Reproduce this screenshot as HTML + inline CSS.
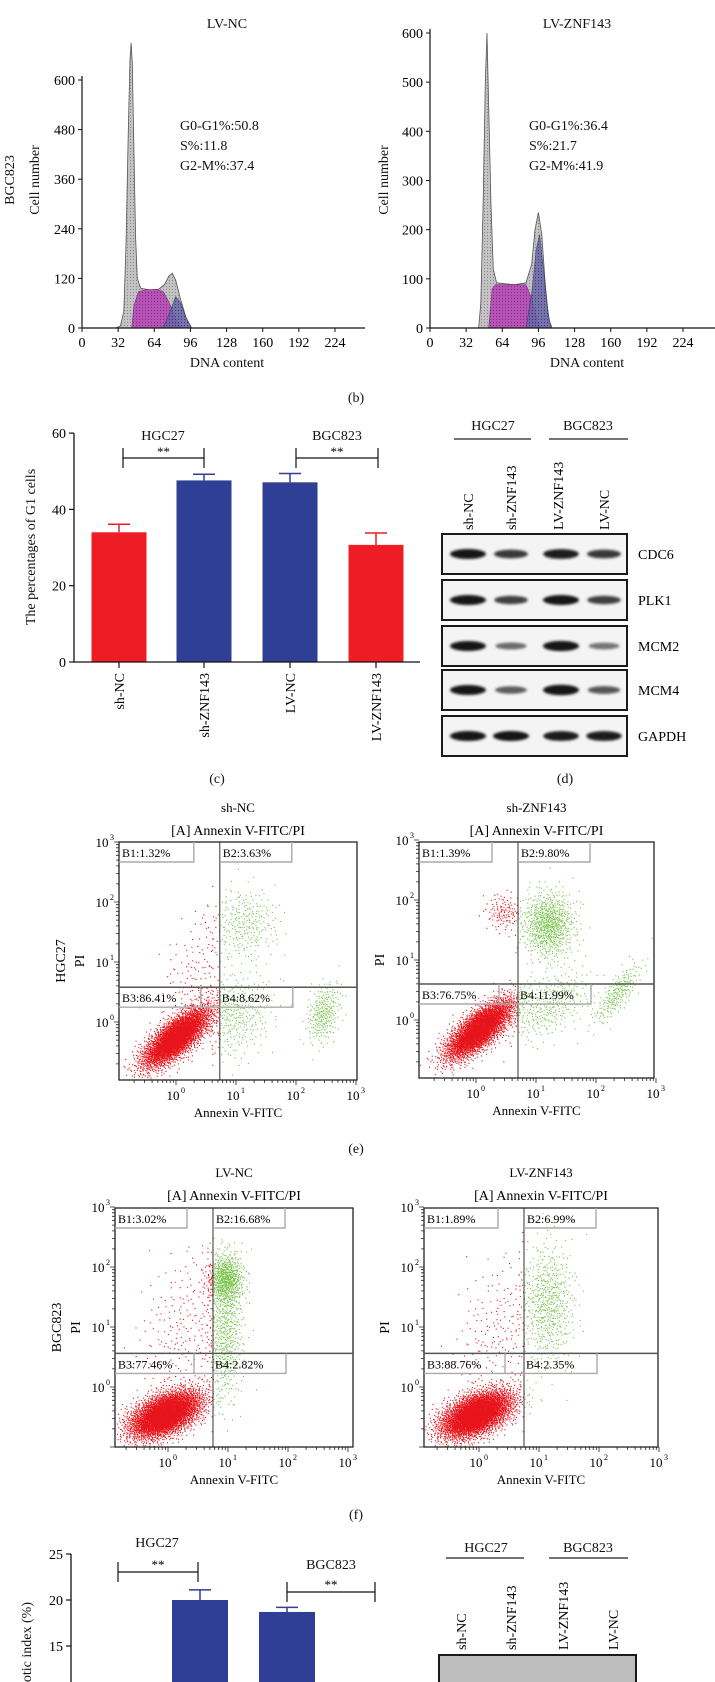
<!DOCTYPE html>
<html><head><meta charset="utf-8"><style>
html,body{margin:0;padding:0;background:#fff;}
svg{display:block;font-family:"Liberation Serif",serif;}
</style></head><body>
<svg id="fig" width="715" height="1682" viewBox="0 0 715 1682" xmlns="http://www.w3.org/2000/svg">
<defs>
<filter id="blur1" x="-20%" y="-50%" width="140%" height="200%"><feGaussianBlur stdDeviation="1.2"/></filter>
<pattern id="hatchG" width="3" height="3" patternUnits="userSpaceOnUse"><rect width="3" height="3" fill="#c4c4c4"/><circle cx="1.5" cy="1.5" r="0.6" fill="#888"/></pattern>
<pattern id="hatchM" width="3" height="3" patternUnits="userSpaceOnUse"><rect width="3" height="3" fill="#b84fb8"/><circle cx="1.5" cy="1.5" r="0.6" fill="#7a2a7a"/></pattern>
<pattern id="hatchB" width="3" height="3" patternUnits="userSpaceOnUse"><rect width="3" height="3" fill="#6a66aa"/><circle cx="1.5" cy="1.5" r="0.6" fill="#333366"/></pattern>
</defs>
<g id="layer"></g>
<g font-size="14" fill="#111">
<text x="227" y="28" text-anchor="middle">LV-NC</text>
<text x="577" y="28" text-anchor="middle">LV-ZNF143</text>
<text transform="translate(14,180) rotate(-90)" text-anchor="middle">BGC823</text>
<text transform="translate(39,180) rotate(-90)" text-anchor="middle">Cell number</text>
<text transform="translate(388,180) rotate(-90)" text-anchor="middle">Cell number</text>
<text x="180" y="130">G0-G1%:50.8</text>
<text x="180" y="150">S%:11.8</text>
<text x="180" y="170">G2-M%:37.4</text>
<text x="529" y="130">G0-G1%:36.4</text>
<text x="529" y="150">S%:21.7</text>
<text x="529" y="170">G2-M%:41.9</text>
<text x="227" y="367" text-anchor="middle">DNA content</text>
<text x="587" y="367" text-anchor="middle">DNA content</text>
<text x="356" y="402" text-anchor="middle">(b)</text>
<text transform="translate(35,547) rotate(-90)" text-anchor="middle">The percentages of G1 cells</text>
<text x="163" y="440" text-anchor="middle">HGC27</text>
<text x="337" y="440" text-anchor="middle">BGC823</text>
<text x="217" y="783" text-anchor="middle">(c)</text>
<text x="565" y="783" text-anchor="middle">(d)</text>
<text x="493" y="430" text-anchor="middle">HGC27</text>
<text x="588" y="430" text-anchor="middle">BGC823</text>
<text x="356" y="1153" text-anchor="middle">(e)</text>
<text x="356" y="1519" text-anchor="middle">(f)</text>
<text x="157" y="1547" text-anchor="middle">HGC27</text>
<text x="331" y="1569" text-anchor="middle">BGC823</text>
<text transform="translate(31,1602) rotate(-90)" text-anchor="end">Apoptotic index (%)</text>
<text x="486" y="1552" text-anchor="middle">HGC27</text>
<text x="588" y="1552" text-anchor="middle">BGC823</text>
</g>
</svg>
<script>
const histLeftTotal = [[30,0],[34,5],[37,40],[39,200],[41,480],[42.5,650],[43.5,690],[44.5,640],[46,420],[47.5,220],[49,120],[52,96],[60,92],[68,94],[73,105],[77,126],[80,132],[83,116],[87,72],[92,26],[97,0]];
const histLeftS = [[44,0],[46,55],[50,88],[57,93],[66,93],[72,88],[77,62],[83,22],[88,0]];
const histLeftG2 = [[72,0],[78,40],[83,76],[87,62],[92,26],[97,0]];
const histRightTotal = [[43,0],[45,50],[47,250],[49,500],[50.5,600],[52,450],[54,250],[56,120],[59,92],[75,88],[85,92],[90,130],[93,200],[96,235],[99,190],[102,90],[105,20],[108,0]];
const histRightS = [[52,0],[55,80],[58,88],[85,88],[90,60],[95,15],[98,0]];
const histRightG2 = [[85,0],[90,70],[94,160],[97,190],[100,130],[104,40],[107,0]];
const histLeftYTicks = [0,120,240,360,480,600];
const histRightYTicks = [0,100,200,300,400,500,600];
const histXTicks = [0,32,64,96,128,160,192,224];

const barCCats = ["sh-NC","sh-ZNF143","LV-NC","LV-ZNF143"];
const barCValues = [34.0,47.6,47.1,30.7];
const barCErr = [2.1,1.6,2.3,3.1];
const barCColors = ["#ee1c25","#2e3f95","#2e3f95","#ee1c25"];
const barCYTicks = [0,20,40,60];

const wbProteins = ["CDC6","PLK1","MCM2","MCM4","GAPDH"];
const wbLanes = ["sh-NC","sh-ZNF143","LV-ZNF143","LV-NC"];
const wbCDC6 = [1.0,0.75,0.95,0.75];
const wbPLK1 = [1.0,0.7,1.0,0.7];
const wbMCM2 = [1.0,0.4,1.05,0.35];
const wbMCM4 = [1.0,0.5,1.1,0.55];
const wbGAPDH = [1.0,1.0,0.95,0.95];

const flowTitles = ["sh-NC","sh-ZNF143","LV-NC","LV-ZNF143"];
const flowRowLabels = ["HGC27","","BGC823",""];
const flowQuad = [["B1:1.32%","B2:3.63%","B3:86.41%","B4:8.62%"],["B1:1.39%","B2:9.80%","B3:76.75%","B4:11.99%"],["B1:3.02%","B2:16.68%","B3:77.46%","B4:2.82%"],["B1:1.89%","B2:6.99%","B3:88.76%","B4:2.35%"]];
const flowClusters1 = [[0.0,-0.25,0.28,0.25,3600,0.75],[0.35,0.8,0.3,0.5,140,0.3],[1.0,0.1,0.3,0.35,320,0.2],[2.45,0.15,0.14,0.25,260,0.3],[1.15,1.65,0.28,0.3,260,0]];
const flowClusters2 = [[0.05,-0.15,0.28,0.25,3400,0.75],[0.45,1.8,0.15,0.15,120,0],[1.2,1.6,0.22,0.28,750,0],[1.2,0.25,0.35,0.3,330,0.5],[2.35,0.45,0.2,0.25,220,0.8]];
const flowClusters3 = [[-0.05,-0.45,0.3,0.2,4000,0.5],[0.25,1.0,0.4,0.65,220,0.3],[0.95,1.8,0.15,0.22,650,0],[0.95,0.9,0.15,0.55,500,0]];
const flowClusters4 = [[-0.05,-0.45,0.3,0.2,4000,0.5],[0.35,1.0,0.4,0.6,200,0.3],[1.15,1.4,0.22,0.5,550,0]];
const flowGates = [[0.73,0.58],[0.7,0.6],[0.75,0.56],[0.75,0.56]];

const barGCats = ["sh-NC","sh-ZNF143","LV-NC","LV-ZNF143"];
const barGValues = [8.5,20.0,18.7,9.0];
const barGErr = [1.0,1.1,0.5,1.0];
const barGYTicks = [15,20,25];
const wb2Lanes = ["sh-NC","sh-ZNF143","LV-ZNF143","LV-NC"];

const NS = "http://www.w3.org/2000/svg";
const layer = document.getElementById('layer');
function mk(tag, attrs, parent){ const e=document.createElementNS(NS,tag); for(const k in attrs) e.setAttribute(k,attrs[k]); (parent||layer).appendChild(e); return e; }
function txt(s,attrs,parent){ const e=mk('text',attrs,parent); e.textContent=s; return e; }

function drawHist(x0,x1,yTop,yBot,maxC,ticksY,total,sPh,g2,pre){
  const sx=v=>x0+v*(253/224), sy=c=>yBot-c*((yBot-yTop)/maxC);
  const g=mk('g',{});
  
  
  const area=(pts)=>'M'+pts.map(p=>sx(p[0]).toFixed(1)+','+sy(p[1]).toFixed(1)).join(' L')+'Z';
  const a=mk('path',{d:area(total),fill:'url(#hatchG)',stroke:'#555','stroke-width':0.8},g);
  
  
  const b=mk('path',{d:area(sPh),fill:'url(#hatchM)',stroke:'#7a2a7a','stroke-width':0.6,opacity:0.95},g);
  
  
  const c=mk('path',{d:area(g2),fill:'url(#hatchB)',stroke:'#333366','stroke-width':0.6,opacity:0.85},g);
  
  
  const ax=mk('path',{d:`M${x0},${sy(maxC)-4} V${yBot} H${x1}`,fill:'none',stroke:'#111','stroke-width':1.2},g);
  
  
  ticksY.forEach(t=>{
    mk('line',{x1:x0-4,x2:x0,y1:sy(t),y2:sy(t),stroke:'#111'},g);
    const l=txt(String(t),{x:x0-7,y:sy(t)+5,'text-anchor':'end','font-size':14},g);
    
    
  });
  histXTicks.forEach(t=>{
    mk('line',{x1:sx(t),x2:sx(t),y1:yBot,y2:yBot+4,stroke:'#111'},g);
    const l=txt(String(t),{x:sx(t),y:yBot+19,'text-anchor':'middle','font-size':14},g);
    
    
  });
}
drawHist(82,365,80,328,600,histLeftYTicks,histLeftTotal,histLeftS,histLeftG2,'lv-nc');
drawHist(430,715,33,328,600,histRightYTicks,histRightTotal,histRightS,histRightG2,'lv-znf143');

(function(){
  const y=v=>662-v*3.815, xs=[119,204,290,376], w=55;
  const g=mk('g',{});
  
  
  barCValues.forEach((v,i)=>{
    const e=mk('path',{d:`M${xs[i]},${y(v)} V${y(v+barCErr[i])} M${xs[i]-11},${y(v+barCErr[i])} H${xs[i]+11}`,stroke:barCColors[i],'stroke-width':1.5,fill:'none'},g);
    
    
    const r=mk('rect',{x:xs[i]-w/2,y:y(v),width:w,height:y(0)-y(v),fill:barCColors[i]},g);
    
    
    mk('line',{x1:xs[i],x2:xs[i],y1:662,y2:668,stroke:'#111','stroke-width':1.2},g);
    const l=txt(barCCats[i],{transform:`translate(${xs[i]+5},673) rotate(-90)`,'text-anchor':'end','font-size':14},g);
    
    
  });
  const ax=mk('path',{d:`M74,${y(60)} V662 H420`,stroke:'#111','stroke-width':1.3,fill:'none'},g);
  
  
  barCYTicks.forEach(t=>{
    mk('line',{x1:69,x2:74,y1:y(t),y2:y(t),stroke:'#111','stroke-width':1.2},g);
    const l=txt(String(t),{x:66,y:y(t)+5,'text-anchor':'end','font-size':14},g);
    
    
  });
  [[123,204],[296,378]].forEach((p,k)=>{
    const b=mk('path',{d:`M${p[0]},448 V468 M${p[0]},458 H${p[1]} M${p[1]},448 V468`,stroke:'#111','stroke-width':1.2,fill:'none'},g);
    
    
    const s=txt('**',{x:(p[0]+p[1])/2,y:456,'text-anchor':'middle','font-size':13},g);
    
    
  });
})();

function drawLaneHeader(lines,ly,labelBottom,lx,pre){
  lines.forEach(l=>{ const e=mk('line',{x1:l[0],x2:l[1],y1:ly,y2:ly,stroke:'#222','stroke-width':1.3});   });
  wbLanes.forEach((n,i)=>{ const t=txt(n,{transform:`translate(${lx[i]+5},${labelBottom}) rotate(-90)`,'font-size':14});   });
}
drawLaneHeader([[454,531],[549,628]],439,530,[468,511,558,604],'wb');
(function(){
  const rows=[wbCDC6,wbPLK1,wbMCM2,wbMCM4,wbGAPDH], tops=[534,580,626,670,716], h=40, lx=[468,511,561,604];
  rows.forEach((vals,r)=>{
    const box=mk('rect',{x:442,y:tops[r],width:185,height:h,fill:'#f4f4f4',stroke:'#1a1a1a','stroke-width':2});
    
    
    vals.forEach((v,i)=>{
      const b=mk('ellipse',{cx:lx[i],cy:tops[r]+h/2,rx:14+4*Math.min(v,1),ry:2.5+2.5*v,fill:'#151515',opacity:Math.min(1,0.35+0.65*v),filter:'url(#blur1)'});
      
      
    });
    const l=txt(wbProteins[r],{x:638,y:tops[r]+h/2+5,'font-size':14});
    
    
  });
})();

function halton(i,b){let f=1,r=0;while(i>0){f/=b;r+=f*(i%b);i=Math.floor(i/b);}return r;}
function drawFlow(k,left,right,top,bottom,x0tick,y0tick,clusters,titleY){
  const dec=60, sx=v=>x0tick+v*dec, sy=v=>y0tick-v*dec;
  const g=mk('g',{});
  
  
  const cx=(left+right)/2;
  const t1=txt(flowTitles[k],{x:cx,y:titleY,'text-anchor':'middle','font-size':13},g);
  
  
  const t2=txt('[A] Annexin V-FITC/PI',{x:cx,y:titleY+23,'text-anchor':'middle','font-size':14},g);
  
  
  const gx=sx(flowGates[k][0]), gy=sy(flowGates[k][1]);
  let red='', green='', idx=1;
  clusters.forEach(c=>{
    for(let n=0;n<c[4];n++,idx++){
      const u1=Math.max(1e-4,halton(idx,2)), u2=halton(idx,3);
      const rr=Math.sqrt(-2*Math.log(u1)), z1=rr*Math.cos(2*Math.PI*u2), z2=rr*Math.sin(2*Math.PI*u2);
      const px=sx(c[0]+c[2]*z1), py=sy(c[1]+c[3]*(c[5]*z1+Math.sqrt(1-c[5]*c[5])*z2));
      if(px<left+1||px>right-1||py<top+1||py>bottom-1) continue;
      const s=`M${px.toFixed(1)},${py.toFixed(1)}h1.1v1.1h-1.1z`;
      if(px<gx) red+=s; else green+=s;
    }
  });
  const pr=mk('path',{d:red,fill:'#e8141b',opacity:1},g);
  
  
  const pg=mk('path',{d:green,fill:'#66bb33',opacity:0.9},g);
  
  
  const fr=mk('rect',{x:left,y:top,width:right-left,height:bottom-top,fill:'none',stroke:'#222','stroke-width':1.3},g);
  
  
  const gv=mk('line',{x1:gx,x2:gx,y1:top,y2:bottom,stroke:'#333','stroke-width':1},g);
  
  
  const gh=mk('line',{x1:left,x2:right,y1:gy,y2:gy,stroke:'#555','stroke-width':1.5},g);
  
  
  const q=flowQuad[k];
  const boxes=[[left,top,gx-left-26],[gx,top,72],[left,gy,gx-left-19],[gx-19,gy,92]];
  boxes.forEach((b,i)=>{
    const r=mk('path',{d:`M${b[0]},${b[1]+20} H${b[0]+b[2]} V${b[1]}`,fill:'none',stroke:'#aaa','stroke-width':1.4},g);
    
    
    const t=txt(q[i],{x:b[0]+(i==3?21:3),y:b[1]+15,'font-size':12},g);
    
    
  });
  let tk='';
  for(let d=-1;d<3;d++) for(let m=1;m<10;m++){
    const v=d+Math.log10(m), X=sx(v), Y=sy(v), L=m==1?5:3;
    if(X>=left&&X<=right) tk+=`M${X.toFixed(1)},${bottom}v${L}`;
    if(Y<=bottom&&Y>=top) tk+=`M${left},${Y.toFixed(1)}h${-L}`;
  }
  tk+=`M${sx(3)},${bottom}v5M${left},${sy(3)}h-5`;
  const tp=mk('path',{d:tk,stroke:'#222','stroke-width':0.8,fill:'none'},g);
  
  
  for(let d=0;d<=3;d++){
    const tx=txt('10',{x:sx(d)-3,y:bottom+20,'text-anchor':'middle','font-size':13},g);
    
    
    txt(String(d),{x:sx(d)+5,y:bottom+13,'font-size':8},g);
    const ty=txt('10',{x:left-17,y:sy(d)+5,'text-anchor':'middle','font-size':13},g);
    
    
    txt(String(d),{x:left-9,y:sy(d)-2,'font-size':8},g);
  }
  const xt=txt('Annexin V-FITC',{x:cx,y:bottom+37,'text-anchor':'middle','font-size':13},g);
  
  
  const yt=txt('PI',{transform:`translate(${left-35},${(top+bottom)/2}) rotate(-90)`,'text-anchor':'middle','font-size':14},g);
  
  
  if(flowRowLabels[k]){
    const rl=txt(flowRowLabels[k],{transform:`translate(${left-54},${(top+bottom)/2}) rotate(-90)`,'text-anchor':'middle','font-size':14},g);
    
    
  }
}
drawFlow(0,119,357,842,1080,176,1022,flowClusters1,812);
drawFlow(1,419,654,842,1078,476,1020,flowClusters2,812);
drawFlow(2,115,353,1208,1447,168,1387,flowClusters3,1177);
drawFlow(3,424,658,1208,1447,479,1387,flowClusters4,1177);

(function(){
  const y=v=>1600-(v-20)*9.2, xs=[115,200,287,373], w=56;
  const g=mk('g',{});
  
  
  barGValues.forEach((v,i)=>{
    const e=mk('path',{d:`M${xs[i]},${y(v)} V${y(v+barGErr[i])} M${xs[i]-11},${y(v+barGErr[i])} H${xs[i]+11}`,stroke:'#2e3f95','stroke-width':1.5,fill:'none'},g);
    
    
    const r=mk('rect',{x:xs[i]-w/2,y:y(v),width:w,height:Math.max(0,1700-y(v)),fill:'#2e3f95'},g);
    
    
  });
  const ax=mk('path',{d:`M71,${y(25)} V1700`,stroke:'#111','stroke-width':1.3,fill:'none'},g);
  
  
  barGYTicks.forEach(t=>{
    mk('line',{x1:66,x2:71,y1:y(t),y2:y(t),stroke:'#111','stroke-width':1.2},g);
    const l=txt(String(t),{x:63,y:y(t)+5,'text-anchor':'end','font-size':14},g);
    
    
  });
  [[118,198,1572,1562,1582],[287,375,1592,1582,1602]].forEach(p=>{
    const b=mk('path',{d:`M${p[0]},${p[3]} V${p[4]} M${p[0]},${p[2]} H${p[1]} M${p[1]},${p[3]} V${p[4]}`,stroke:'#111','stroke-width':1.2,fill:'none'},g);
    
    
    const s=txt('**',{x:(p[0]+p[1])/2,y:p[2]-3,'text-anchor':'middle','font-size':13},g);
    
    
  });
})();
(function(){
  [[446,524],[549,628]].forEach(l=>{ const e=mk('line',{x1:l[0],x2:l[1],y1:1558,y2:1558,stroke:'#222','stroke-width':1.3});   });
  const lx=[461,511,563,613];
  wb2Lanes.forEach((n,i)=>{ const t=txt(n,{transform:`translate(${lx[i]+5},1650) rotate(-90)`,'font-size':14});   });
  const b=mk('rect',{x:439,y:1655,width:197,height:40,fill:'#bdbdbd',stroke:'#1a1a1a','stroke-width':2});
  
  
})();
</script>
</body></html>
